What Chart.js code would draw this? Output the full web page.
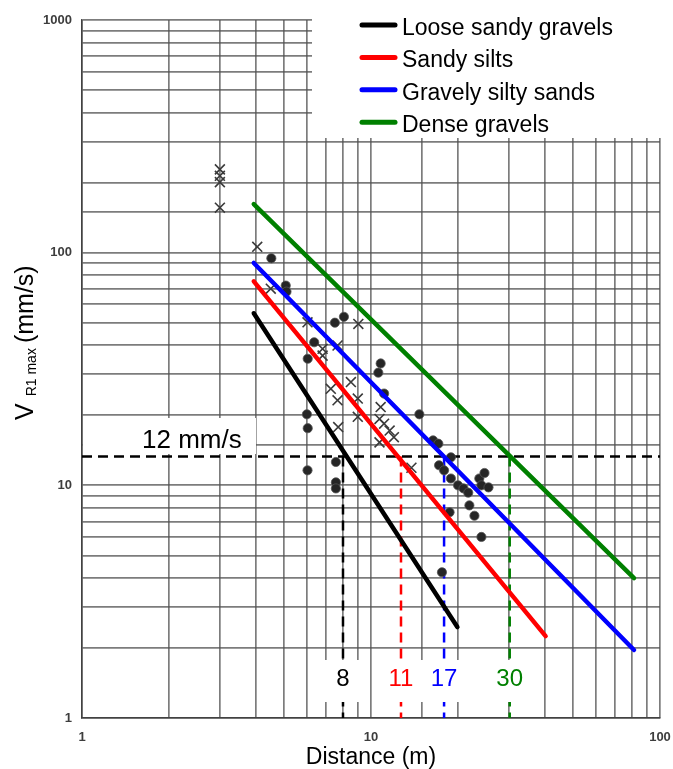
<!DOCTYPE html>
<html>
<head>
<meta charset="utf-8">
<script src="https://cdn.jsdelivr.net/npm/chart.js@4.4.1/dist/chart.umd.min.js"></script>
<style>
  html, body { margin: 0; padding: 0; background: #fff; }
  #wrap { width: 673px; height: 769px; position: relative; }
</style>
</head>
<body>
<div id="wrap"><canvas id="chart"></canvas></div>
<script>
// soil lines (distance m, velocity mm/s)
const seriesNames = ['Loose sandy gravels', 'Sandy silts', 'Gravely silty sands', 'Dense gravels']
const seriesColors = ['#000000', '#ff0000', '#0000ff', '#008000']
const lineStartX = [3.93, 3.93, 3.93, 3.93]
const lineStartY = [54.9, 75.3, 90.3, 161.8]
const lineEndX = [19.9, 40.2, 81.3, 81.3]
const lineEndY = [2.46, 2.25, 1.96, 3.99]

// 12 mm/s limit and where each line reaches it
const limitVel = 13.3
const limitLabel = '12 mm/s'
const reachDist = [8, 12.7, 17.9, 30.2]
const reachLabels = ['8', '11', '17', '30']

// measured points
const crossDist = [3, 3, 3, 3, 4.04, 4.5, 6.03, 9.04, 6.8, 6.8, 7.66, 8.52, 7.26, 7.66, 9.0, 10.8, 9.0, 10.7, 11.1, 11.6, 10.7, 12.0, 7.7, 13.8]
const crossVel = [228, 214, 201, 156, 106, 70, 50.2, 49.4, 38.6, 36.1, 39.9, 27.8, 26.0, 23.2, 23.6, 21.7, 19.7, 19.3, 18.4, 17.2, 15.3, 16.1, 17.8, 11.9]
const dotDist = [4.52, 5.07, 5.1, 7.5, 8.06, 6.36, 6.04, 10.8, 10.6, 11.1, 14.7, 6.0, 6.04, 7.56, 6.03, 7.56, 7.56, 16.4, 17.1, 18.9, 17.2, 17.9, 18.9, 20.0, 20.9, 21.7, 23.7, 24.7, 24.1, 25.5, 21.9, 22.8, 18.7, 24.1, 17.6]
const dotVel = [94.6, 72.2, 68, 50, 53, 41.2, 35, 33.4, 30.5, 24.8, 20.2, 20.2, 17.6, 12.6, 11.6, 10.3, 9.7, 15.6, 15.1, 13.2, 12.2, 11.6, 10.7, 10.0, 9.7, 9.3, 10.7, 11.3, 10.0, 9.8, 8.2, 7.4, 7.66, 6.0, 4.23]

const xTicks = [1, 10, 100]
const yTicks = [1, 10, 100, 1000]

const FONT = '"Liberation Sans", Arial, sans-serif'
const pts = (xs, ys) => xs.map((v, i) => ({x: v, y: ys[i]}))

const datasets = []
seriesNames.forEach((name, i) => {
  datasets.push({
    label: name,
    data: [{x: lineStartX[i], y: lineStartY[i]}, {x: lineEndX[i], y: lineEndY[i]}],
    showLine: true,
    borderColor: seriesColors[i],
    borderWidth: 4.5,
    borderCapStyle: 'round',
    pointRadius: 0,
    order: 1,
  })
})
datasets.push({
  label: 'crosses',
  data: pts(crossDist, crossVel),
  pointStyle: 'crossRot',
  pointRadius: 7,
  borderColor: '#3a3a3a',
  borderWidth: 1.6,
  order: 2,
})
datasets.push({
  label: 'dots',
  data: pts(dotDist, dotVel),
  pointStyle: 'circle',
  pointRadius: 4.6,
  backgroundColor: '#262626',
  borderColor: '#555',
  borderWidth: 0.8,
  order: 2,
})
datasets.push({
  label: 'limit',
  data: [{x: 1, y: limitVel}, {x: 100, y: limitVel}],
  showLine: true,
  borderColor: '#000',
  borderWidth: 2.4,
  borderDash: [10, 6],
  pointRadius: 0,
  order: 3,
})
reachDist.forEach((d, i) => {
  datasets.push({
    label: 'reach ' + reachLabels[i],
    data: [{x: d, y: limitVel}, {x: d, y: 1}],
    showLine: true,
    borderColor: seriesColors[i],
    borderWidth: 2.5,
    borderDash: [10, 6],
    pointRadius: 0,
    order: 3,
  })
})

const decor = {
  id: 'decor',
  afterDatasetsDraw(chart) {
    const {ctx, scales: {x}} = chart
    ctx.save()
    // white pasted patches over the scanned grid
    ctx.fillStyle = '#fff'
    ctx.fillRect(312, 0, 361, 138)
    ctx.fillRect(83, 418, 173, 36)
    ctx.fillRect(312, 660, 54, 42)
    ctx.fillRect(374, 660, 166, 42)

    // legend
    ctx.lineCap = 'round'
    ctx.lineWidth = 5
    ctx.font = '23px ' + FONT
    ctx.textBaseline = 'alphabetic'
    ctx.textAlign = 'left'
    seriesNames.forEach((name, i) => {
      const ry = 25 + i * 32.4
      ctx.strokeStyle = seriesColors[i]
      ctx.beginPath()
      ctx.moveTo(362, ry)
      ctx.lineTo(395, ry)
      ctx.stroke()
      ctx.fillStyle = '#000'
      ctx.fillText(name, 402, ry + 10)
    })

    // limit label
    ctx.font = '26px ' + FONT
    ctx.fillStyle = '#000'
    ctx.fillText(limitLabel, 142, 448)

    // distances at the limit
    ctx.font = '24px ' + FONT
    ctx.textAlign = 'center'
    ctx.textBaseline = 'middle'
    reachLabels.forEach((t, i) => {
      ctx.fillStyle = seriesColors[i]
      ctx.fillText(t, x.getPixelForValue(reachDist[i]), 679)
    })

    // y title with subscript
    ctx.translate(33, 420)
    ctx.rotate(-Math.PI / 2)
    ctx.textAlign = 'left'
    ctx.textBaseline = 'alphabetic'
    ctx.fillStyle = '#000'
    ctx.font = '25px ' + FONT
    let px = 0
    ctx.fillText('V', px, 0)
    px += ctx.measureText('V').width + 7
    ctx.font = '14px ' + FONT
    ctx.fillText('R1 max', px, 3)
    px += ctx.measureText('R1 max').width + 5
    ctx.font = '25px ' + FONT
    ctx.fillText('(mm/s)', px, 0)
    ctx.restore()
  }
}

const tickLabel = (list) => (v) => {
  const hit = list.find((t) => Math.abs(t - v) / t < 1e-6)
  return hit ? String(hit) : ''
}

const gridOpts = {color: 'rgba(80,80,80,0.75)', lineWidth: 1.7, drawTicks: false}
const tickFont = {family: FONT, size: 13, weight: 'bold'}

new Chart(document.getElementById('chart'), {
  type: 'scatter',
  data: {datasets},
  options: {
    responsive: true,
    maintainAspectRatio: false,
    animation: false,
    layout: {padding: {top: 20, right: 13, left: 0, bottom: 0}},
    plugins: {legend: {display: false}, tooltip: {enabled: false}},
    scales: {
      x: {
        type: 'logarithmic',
        min: 1,
        max: 100,
        afterFit: (s) => { s.height = 51; s.paddingLeft = 0; s.paddingRight = 0 },
        grid: gridOpts,
        border: {color: 'rgba(60,60,60,0.9)', width: 1.5},
        ticks: {autoSkip: false, maxRotation: 0, minRotation: 0, padding: 12, color: '#3d3d3d', font: tickFont, callback: tickLabel(xTicks)},
        title: {display: true, text: 'Distance (m)', color: '#000', font: {family: FONT, size: 23, lineHeight: 1}, padding: 0},
      },
      y: {
        type: 'logarithmic',
        min: 1,
        max: 1000,
        afterFit: (s) => { s.width = 82; s.paddingTop = 0; s.paddingBottom = 0 },
        grid: gridOpts,
        border: {color: 'rgba(60,60,60,0.9)', width: 1.5},
        ticks: {autoSkip: false, padding: 10, color: '#3d3d3d', font: tickFont, callback: tickLabel(yTicks)},
      },
    },
  },
  plugins: [decor],
})
</script>
</body>
</html>
